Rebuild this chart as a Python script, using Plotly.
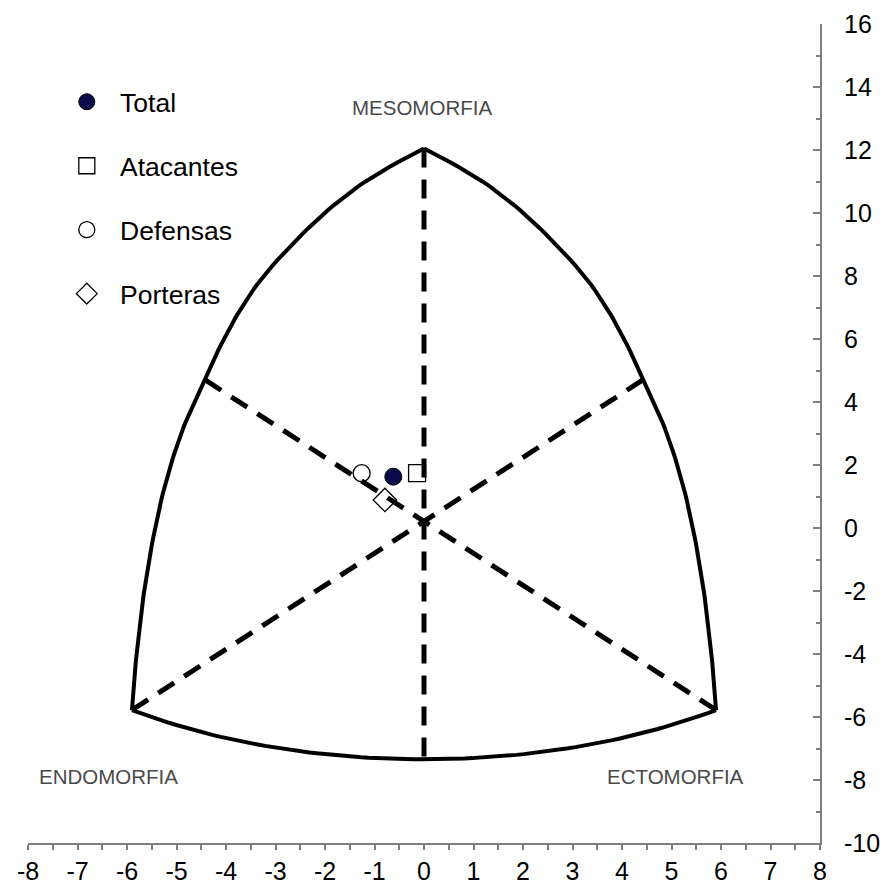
import numpy as np
import plotly.graph_objects as go

# ---- data (somatotype means, somatochart X/Y coordinates) ----
groups = ["Total", "Atacantes", "Defensas", "Porteras"]
group_x = [-0.62, -0.14, -1.26, -0.79]
group_y = [1.63, 1.74, 1.74, 0.89]
group_symbols = ["circle", "square-open", "circle-open", "diamond-open"]
group_colors = ["#0b0b4a", "black", "black", "black"]

# ---- somatochart frame (template outline) ----
left_arc_x = [0.0, -1.43, -2.77, -3.45, -4.12, -4.42, -4.93, -5.40, -5.73, -5.90]
left_arc_y = [12.05, 10.73, 8.83, 7.56, 5.76, 4.70, 2.90, 0.25, -2.92, -5.78]
bottom_arc_x = [-5.90, -4.5, -3.0, -1.5, 0.0, 1.5, 3.0, 4.5, 5.90]
bottom_arc_y = [-5.78, -6.48, -6.97, -7.25, -7.35, -7.25, -6.97, -6.48, -5.78]

axis_lines = [
    ([0.0, 0.0], [12.05, -7.52]),
    ([-4.42, 5.90], [4.70, -5.78]),
    ([4.42, -5.90], [4.70, -5.78]),
]

pole_labels = ["MESOMORFIA", "ENDOMORFIA", "ECTOMORFIA"]
pole_x = [-0.04, -6.38, 5.09]
pole_y = [13.35, -7.9, -7.9]

x_range = [-8, 8]
y_range = [-10, 16]
x_ticks = list(range(-8, 9))
y_ticks = list(range(-10, 17, 2))
x_ticktext = [str(v) for v in x_ticks]
y_ticktext = [str(v) for v in y_ticks]


def pchip(xk, yk, xq):
    xk = np.asarray(xk, float)
    yk = np.asarray(yk, float)
    h = np.diff(xk)
    delta = np.diff(yk) / h
    n = len(xk)
    d = np.zeros(n)
    for k in range(1, n - 1):
        if delta[k - 1] * delta[k] > 0:
            w1 = 2 * h[k] + h[k - 1]
            w2 = h[k] + 2 * h[k - 1]
            d[k] = (w1 + w2) / (w1 / delta[k - 1] + w2 / delta[k])
    d[0] = ((2 * h[0] + h[1]) * delta[0] - h[0] * delta[1]) / (h[0] + h[1])
    if np.sign(d[0]) != np.sign(delta[0]):
        d[0] = 0
    d[-1] = ((2 * h[-1] + h[-2]) * delta[-1] - h[-1] * delta[-2]) / (h[-1] + h[-2])
    if np.sign(d[-1]) != np.sign(delta[-1]):
        d[-1] = 0
    out = np.empty_like(xq)
    for i, x in enumerate(xq):
        k = min(max(np.searchsorted(xk, x) - 1, 0), n - 2)
        t = (x - xk[k]) / h[k]
        h00 = 2 * t**3 - 3 * t**2 + 1
        h10 = t**3 - 2 * t**2 + t
        h01 = -2 * t**3 + 3 * t**2
        h11 = t**3 - t**2
        out[i] = h00 * yk[k] + h10 * h[k] * d[k] + h01 * yk[k + 1] + h11 * h[k] * d[k + 1]
    return out


# smooth side arc: x as a monotone function of y
ys = np.linspace(left_arc_y[-1], left_arc_y[0], 120)
xs = pchip(left_arc_y[::-1], left_arc_x[::-1], ys)

bcoef = np.polyfit(bottom_arc_x, bottom_arc_y, 4)
bxs = np.linspace(bottom_arc_x[0], bottom_arc_x[-1], 80)
bys = np.polyval(bcoef, bxs)
bys[0], bys[-1] = bottom_arc_y[0], bottom_arc_y[-1]

fig = go.Figure()

for lx, ly in axis_lines:
    fig.add_trace(go.Scatter(x=lx, y=ly, mode="lines", showlegend=False,
                             hoverinfo="skip",
                             line=dict(color="black", width=5, dash="19px,12px")))

for ax, ay in [(xs, ys), (-xs, ys), (bxs, bys)]:
    fig.add_trace(go.Scatter(x=ax, y=ay, mode="lines", showlegend=False,
                             hoverinfo="skip",
                             line=dict(color="black", width=4)))

for i, name in enumerate(groups):
    sym = group_symbols[i]
    if sym == "circle":
        marker = dict(symbol=sym, size=17, color=group_colors[i],
                      line=dict(color="black", width=1))
    else:
        marker = dict(symbol=sym, size=17 if sym != "diamond-open" else 18,
                      color="black", line=dict(color="black", width=1.3))
    fig.add_trace(go.Scatter(x=[group_x[i]], y=[group_y[i]], mode="markers",
                             name="\u2002" + name, legendgroup=name,
                             marker=marker))

for t, x, y in zip(pole_labels, pole_x, pole_y):
    fig.add_annotation(x=x, y=y, text=t, showarrow=False,
                       font=dict(family="Liberation Sans, Arial", size=20.5,
                                 color="#4a4a4a"))

fig.update_layout(
    width=880, height=886,
    margin=dict(l=20, r=68, t=16, b=51),
    paper_bgcolor="white", plot_bgcolor="white",
    font=dict(family="Liberation Sans, Arial", color="black"),
    showlegend=True,
    legend=dict(x=0.049, y=0.934, xanchor="left", yanchor="top",
                bgcolor="rgba(0,0,0,0)", tracegroupgap=26.5,
                font=dict(size=26.5, family="Liberation Sans, Arial")),
    xaxis=dict(range=x_range, tickmode="array", tickvals=x_ticks,
               ticktext=x_ticktext, showgrid=False, zeroline=False,
               automargin=False,
               showline=True, linecolor="#7f7f7f", linewidth=2,
               ticks="outside", ticklen=5, tickcolor="#7f7f7f", tickwidth=1.5,
               minor=dict(dtick=0.5, ticks="outside", ticklen=5,
                          tickcolor="#7f7f7f", tickwidth=1.5),
               tickfont=dict(size=25), ticklabelstandoff=0),
    yaxis=dict(range=y_range, tickmode="array", tickvals=y_ticks,
               ticktext=y_ticktext, side="right", showgrid=False,
               automargin=False,
               zeroline=False, showline=True, linecolor="#7f7f7f", linewidth=2,
               ticks="inside", ticklen=7, tickcolor="#7f7f7f", tickwidth=1.5,
               minor=dict(dtick=1, ticks="inside", ticklen=4,
                          tickcolor="#7f7f7f", tickwidth=1.5),
               tickfont=dict(size=25), ticklabelstandoff=17),
)

fig.write_html("out.html")
